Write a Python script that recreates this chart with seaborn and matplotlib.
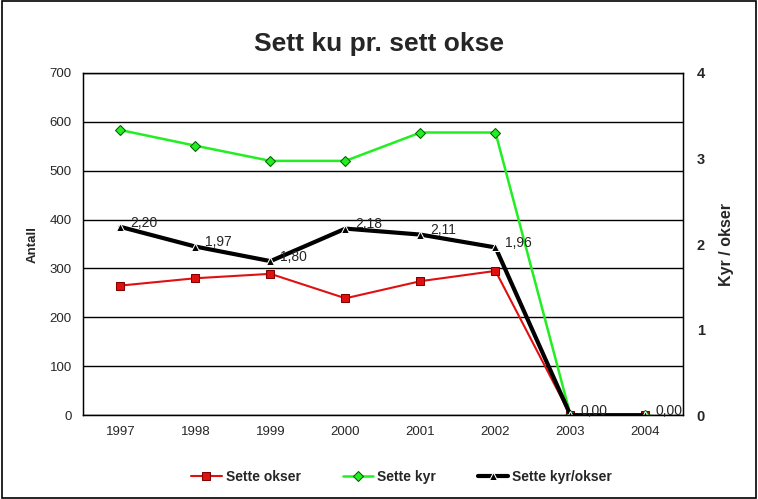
import numpy as np
import pandas as pd
import seaborn as sns
import matplotlib.pyplot as plt
from matplotlib.patches import Rectangle

# data
years = ['1997', '1998', '1999', '2000', '2001', '2002', '2003', '2004']
okser = [265, 280, 289, 239, 274, 295, 0, 0]
kyr = [583, 551, 520, 520, 578, 578, 0, 0]
ratio = [2.20, 1.97, 1.80, 2.18, 2.11, 1.96, 0.00, 0.00]

sns.set_style('white')
plt.rcParams['font.family'] = ['Liberation Sans', 'DejaVu Sans']

df = pd.DataFrame({'year': years, 'okser': okser, 'kyr': kyr, 'ratio': ratio})

fig = plt.figure(figsize=(7.58, 4.99), dpi=100)
ax = fig.add_axes([0.1095, 0.168, 0.7915, 0.686])

sns.lineplot(data=df, x='year', y='okser', ax=ax, color='#e01010', marker='s',
             markersize=6, markeredgecolor='#800000', linewidth=1.5, sort=False,
             label='Sette okser', legend=False)
sns.lineplot(data=df, x='year', y='kyr', ax=ax, color='#22ee22', marker='D',
             markersize=5, markeredgecolor='#006000', linewidth=1.8, sort=False,
             label='Sette kyr', legend=False)

ax.set_ylim(0, 700)
ax.set_yticks(range(0, 701, 100))
ax.set_xlim(-0.5, 7.5)
ax.yaxis.grid(True, color='black', linewidth=1)
ax.set_axisbelow(True)
for s in ax.spines.values():
    s.set_color('black')
    s.set_linewidth(1)
ax.tick_params(axis='both', labelsize=9.5, length=0, pad=8)
ax.set_xlabel('')
ax.set_ylabel('Antall', fontsize=9.5, fontweight='bold', labelpad=8)

ax2 = ax.twinx()
sns.lineplot(data=df, x='year', y='ratio', ax=ax2, color='black', marker='^',
             markersize=6, linewidth=3, sort=False, label='Sette kyr/okser',
             legend=False)
ax2.set_ylim(0, 4)
ax2.set_yticks(range(0, 5))
ax2.set_xlim(-0.5, 7.5)
ax2.tick_params(axis='y', labelsize=10.5, length=0, pad=10)
for lbl in ax2.get_yticklabels():
    lbl.set_fontweight('bold')
ax2.set_ylabel('Kyr / okser', fontsize=11.5, fontweight='bold', labelpad=10)
for s in ax2.spines.values():
    s.set_color('black')

for i, v in enumerate(ratio):
    ax2.annotate(f'{v:.2f}'.replace('.', ','), (i, v), xytext=(7, 3),
                 textcoords='offset points', fontsize=10, va='center')

fig.suptitle('Sett ku pr. sett okse', fontsize=19, fontweight='bold', y=0.935)

h1, l1 = ax.get_legend_handles_labels()
h2, l2 = ax2.get_legend_handles_labels()
fig.legend(h1 + h2, l1 + l2, loc='center', bbox_to_anchor=(0.53, 0.045), ncol=3,
           frameon=False, prop={'weight': 'bold', 'size': 10}, columnspacing=3,
           handlelength=2.2, handletextpad=0.3)

fig.patches.append(Rectangle((0.002, 0.003), 0.996, 0.994, transform=fig.transFigure,
                             fill=False, edgecolor='black', linewidth=1.2))

fig.savefig('out.png', dpi=100)
